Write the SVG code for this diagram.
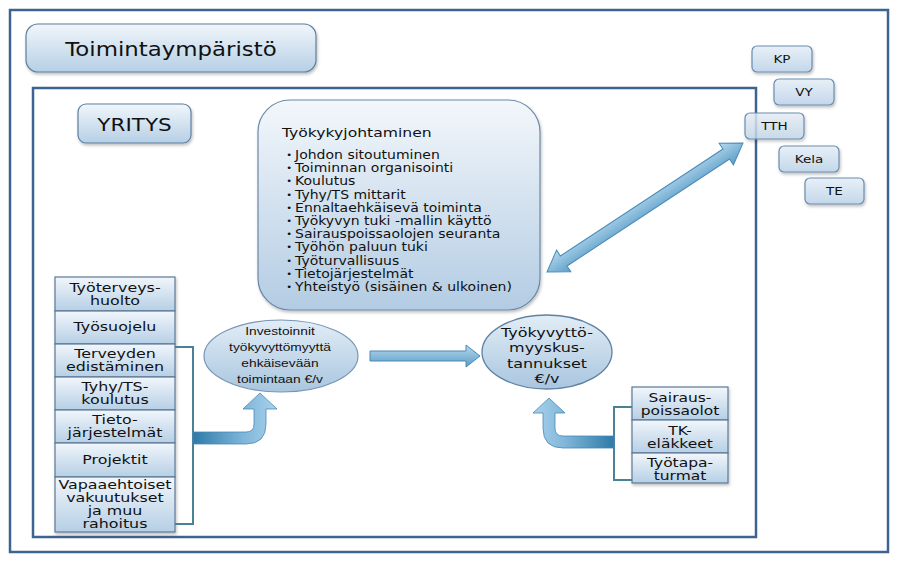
<svg xmlns="http://www.w3.org/2000/svg" width="899" height="564" viewBox="0 0 899 564">
  <defs>
    <linearGradient id="gBox" x1="0" y1="0" x2="0" y2="1">
      <stop offset="0" stop-color="#f1f6fb"/>
      <stop offset="1" stop-color="#b6cfe5"/>
    </linearGradient>
    <linearGradient id="gBig" x1="0" y1="0" x2="0" y2="1">
      <stop offset="0" stop-color="#f3f7fb"/>
      <stop offset="1" stop-color="#b3cce3"/>
    </linearGradient>
    <linearGradient id="gSmall" x1="0" y1="0" x2="0" y2="1">
      <stop offset="0" stop-color="#e8f0f8"/>
      <stop offset="1" stop-color="#c3d7ea"/>
    </linearGradient>
    <linearGradient id="gEll" x1="0" y1="0" x2="0" y2="1">
      <stop offset="0" stop-color="#e2edf6"/>
      <stop offset="1" stop-color="#a9c6df"/>
    </linearGradient>
    <linearGradient id="gArrow" x1="0" y1="0" x2="0" y2="1">
      <stop offset="0" stop-color="#b4d9ef"/>
      <stop offset="1" stop-color="#5c9dc6"/>
    </linearGradient>
    <linearGradient id="gArrowL" x1="0" y1="0" x2="1" y2="0">
      <stop offset="0" stop-color="#2e7aa8"/>
      <stop offset="0.6" stop-color="#7fb6d9"/>
      <stop offset="1" stop-color="#a9d2ec"/>
    </linearGradient>
    <linearGradient id="gArrowR" x1="1" y1="0" x2="0" y2="0">
      <stop offset="0" stop-color="#2e7aa8"/>
      <stop offset="0.6" stop-color="#7fb6d9"/>
      <stop offset="1" stop-color="#a9d2ec"/>
    </linearGradient>
    <filter id="sh" x="-10%" y="-10%" width="130%" height="140%">
      <feDropShadow dx="1" dy="2" stdDeviation="1.5" flood-color="#000" flood-opacity="0.25"/>
    </filter>
  </defs>
  <style>
    .frame{fill:none;stroke:#3d6391;stroke-width:2.5}
    .box{fill:url(#gBox);stroke:#5f7f9f;stroke-width:1.2}
    .small{fill:url(#gSmall);stroke:#6b8db0;stroke-width:1.2}
    .row{fill:url(#gBox);stroke:#5c7896;stroke-width:1.2}
    .ell{fill:url(#gEll);stroke:#7896b5;stroke-width:1.2}
    .t{font-family:"DejaVu Sans",Verdana,sans-serif;fill:#111;text-anchor:middle}
    .a{font-family:"Liberation Sans",Arial,sans-serif;fill:#111;text-anchor:middle}
    .l{font-family:"DejaVu Sans",Verdana,sans-serif;fill:#111}
    .arrow{fill:url(#gArrow);stroke:#4a89b6;stroke-width:1}
    .brk{fill:none;stroke:#4b8197;stroke-width:2}
  </style>

  <!-- frames -->
  <rect class="frame" x="10" y="10" width="878" height="542"/>
  <rect class="frame" x="33" y="88" width="723" height="449"/>

  <g id="toimintaymparisto">
    <rect class="box" x="26" y="24" width="290" height="48" rx="12" filter="url(#sh)"/>
    <g transform="translate(171,0) scale(1.23,1) translate(-171,0)">
      <text class="t" x="171" y="56" font-size="18.6">Toimintaympäristö</text>
    </g>
  </g>

  <g id="yritys">
    <rect class="box" x="78" y="104" width="113" height="39" rx="8" filter="url(#sh)"/>
    <g transform="translate(134.5,0) scale(1.23,1) translate(-134.5,0)">
      <text class="t" x="134.5" y="131" font-size="17.5">YRITYS</text>
    </g>
  </g>

  <g id="tyokykyjohtaminen">
    <rect x="258" y="100" width="282" height="210" rx="32" fill="url(#gBig)" stroke="#6a89aa" stroke-width="1.2" filter="url(#sh)"/>
    <g transform="translate(282,0) scale(1.23,1) translate(-282,0)">
      <text class="l" x="282" y="137" font-size="12.7">Työkykyjohtaminen</text>
      <g font-size="8" class="l">
        <text x="285.5" y="158">•</text>
        <text x="285.5" y="171.2">•</text>
        <text x="285.5" y="184.4">•</text>
        <text x="285.5" y="197.6">•</text>
        <text x="285.5" y="210.8">•</text>
        <text x="285.5" y="224">•</text>
        <text x="285.5" y="237.2">•</text>
        <text x="285.5" y="250.4">•</text>
        <text x="285.5" y="263.6">•</text>
        <text x="285.5" y="276.8">•</text>
        <text x="285.5" y="290">•</text>
      </g>
      <text class="l" font-size="11.4">
        <tspan x="292.6" y="159">Johdon sitoutuminen</tspan>
        <tspan x="292.6" y="172.2">Toiminnan organisointi</tspan>
        <tspan x="292.6" y="185.4">Koulutus</tspan>
        <tspan x="292.6" y="198.6">Tyhy/TS mittarit</tspan>
        <tspan x="292.6" y="211.8">Ennaltaehkäisevä toiminta</tspan>
        <tspan x="292.6" y="225">Työkyvyn tuki -mallin käyttö</tspan>
        <tspan x="292.6" y="238.2">Sairauspoissaolojen seuranta</tspan>
        <tspan x="292.6" y="251.4">Työhön paluun tuki</tspan>
        <tspan x="292.6" y="264.6">Työturvallisuus</tspan>
        <tspan x="292.6" y="277.8">Tietojärjestelmät</tspan>
        <tspan x="292.6" y="291">Yhteistyö (sisäinen &amp; ulkoinen)</tspan>
      </text>
    </g>
  </g>

  <g id="kp">
    <rect class="small" x="752" y="46" width="60" height="26" rx="5" filter="url(#sh)"/>
    <g transform="translate(782,0) scale(1.23,1) translate(-782,0)"><text class="t" x="782" y="63" font-size="11">KP</text></g>
  </g>
  <g id="vy">
    <rect class="small" x="774" y="79" width="60" height="26" rx="5" filter="url(#sh)"/>
    <g transform="translate(804,0) scale(1.23,1) translate(-804,0)"><text class="t" x="804" y="96" font-size="11">VY</text></g>
  </g>
  <g id="tth">
    <rect class="small" x="745" y="113" width="59" height="26" rx="5" fill-opacity="0.8" filter="url(#sh)"/>
    <g transform="translate(774.5,0) scale(1.23,1) translate(-774.5,0)"><text class="t" x="774.5" y="130" font-size="11">TTH</text></g>
  </g>
  <g id="kela">
    <rect class="small" x="779" y="146" width="60" height="26" rx="5" filter="url(#sh)"/>
    <g transform="translate(809,0) scale(1.23,1) translate(-809,0)"><text class="t" x="809" y="163" font-size="11">Kela</text></g>
  </g>
  <g id="te">
    <rect class="small" x="805" y="178" width="59" height="26" rx="5" filter="url(#sh)"/>
    <g transform="translate(834.5,0) scale(1.23,1) translate(-834.5,0)"><text class="t" x="834.5" y="195" font-size="11">TE</text></g>
  </g>

  <!-- left stack -->
  <g id="stack-left" filter="url(#sh)">
    <rect class="row" x="55" y="277" width="120" height="34"/>
    <rect class="row" x="55" y="311" width="120" height="33"/>
    <rect class="row" x="55" y="344" width="120" height="33"/>
    <rect class="row" x="55" y="377" width="120" height="33"/>
    <rect class="row" x="55" y="410" width="120" height="33"/>
    <rect class="row" x="55" y="443" width="120" height="34"/>
    <rect class="row" x="55" y="477" width="120" height="55"/>
  </g>
  <g id="stack-left-text" transform="translate(115,0) scale(1.23,1) translate(-115,0)" font-size="12.9">
    <text class="t" x="115" y="292.5">Työterveys-</text>
    <text class="t" x="115" y="305.5">huolto</text>
    <text class="t" x="115" y="331">Työsuojelu</text>
    <text class="t" x="115" y="358">Terveyden</text>
    <text class="t" x="115" y="371">edistäminen</text>
    <text class="t" x="115" y="391">Tyhy/TS-</text>
    <text class="t" x="115" y="404">koulutus</text>
    <text class="t" x="115" y="424">Tieto-</text>
    <text class="t" x="115" y="437">järjestelmät</text>
    <text class="t" x="115" y="464">Projektit</text>
    <text class="t" x="115" y="489.5">Vapaaehtoiset</text>
    <text class="t" x="115" y="502.5">vakuutukset</text>
    <text class="t" x="115" y="515.5">ja muu</text>
    <text class="t" x="115" y="528.5">rahoitus</text>
  </g>

  <!-- right stack -->
  <g id="stack-right" filter="url(#sh)">
    <rect class="row" x="632" y="387" width="96" height="33"/>
    <rect class="row" x="632" y="420" width="96" height="33"/>
    <rect class="row" x="632" y="453" width="96" height="30"/>
  </g>
  <g id="stack-right-text" transform="translate(680,0) scale(1.23,1) translate(-680,0)" font-size="12.6">
    <text class="t" x="680" y="402">Sairaus-</text>
    <text class="t" x="680" y="415">poissaolot</text>
    <text class="t" x="680" y="435">TK-</text>
    <text class="t" x="680" y="448">eläkkeet</text>
    <text class="t" x="680" y="467">Työtapa-</text>
    <text class="t" x="680" y="480">turmat</text>
  </g>

  <g id="investoinnit">
    <ellipse class="ell" cx="281" cy="356" rx="77" ry="36"/>
    <g transform="translate(280,0) scale(1.23,1) translate(-280,0)" font-size="11.2">
      <text class="a" x="280" y="335">Investoinnit</text>
      <text class="a" x="280" y="351">työkyvyttömyyttä</text>
      <text class="a" x="280" y="367.5">ehkäisevään</text>
      <text class="a" x="280" y="383">toimintaan €/v</text>
    </g>
  </g>

  <g id="kustannukset">
    <ellipse cx="547" cy="352" rx="65" ry="37" fill="url(#gEll)" stroke="#5f81a3" stroke-width="1.3"/>
    <g transform="translate(547,0) scale(1.23,1) translate(-547,0)" font-size="13">
      <text class="t" x="547" y="337">Työkyvyttö-</text>
      <text class="t" x="547" y="352.5">myyskus-</text>
      <text class="t" x="547" y="368">tannukset</text>
      <text class="t" x="547" y="383.5">€/v</text>
    </g>
  </g>

  <!-- connectors -->
  <g id="connectors">
    <path class="brk" d="M175,347 H193 V524 H175"/>
    <path class="brk" d="M632,407 H614 V480 H632"/>
    <path fill="url(#gArrowL)" stroke="#4a89b6" stroke-width="0.8" d="M193,432 L246,432 Q254,432 254,424 L254,409 L243,409 L260,393 L277,409 L266,409 L266,424 Q266,444 246,444 L193,444 Z"/>
    <path fill="url(#gArrowR)" stroke="#4a89b6" stroke-width="0.8" d="M614,436 L563,436 Q555,436 555,428 L555,413 L565,413 L549,398 L533,413 L543,413 L543,428 Q543,448 563,448 L614,448 Z"/>
    <path class="arrow" d="M370,351 L466,351 L466,345 L480,356 L466,367 L466,361 L370,361 Z"/>
    <g transform="translate(547,272) rotate(-33.35)">
      <path class="arrow" d="M0,0 L20,-13 L20,-6 L214.6,-6 L214.6,-13 L234.6,0 L214.6,13 L214.6,6 L20,6 L20,13 Z"/>
    </g>
  </g>
</svg>
